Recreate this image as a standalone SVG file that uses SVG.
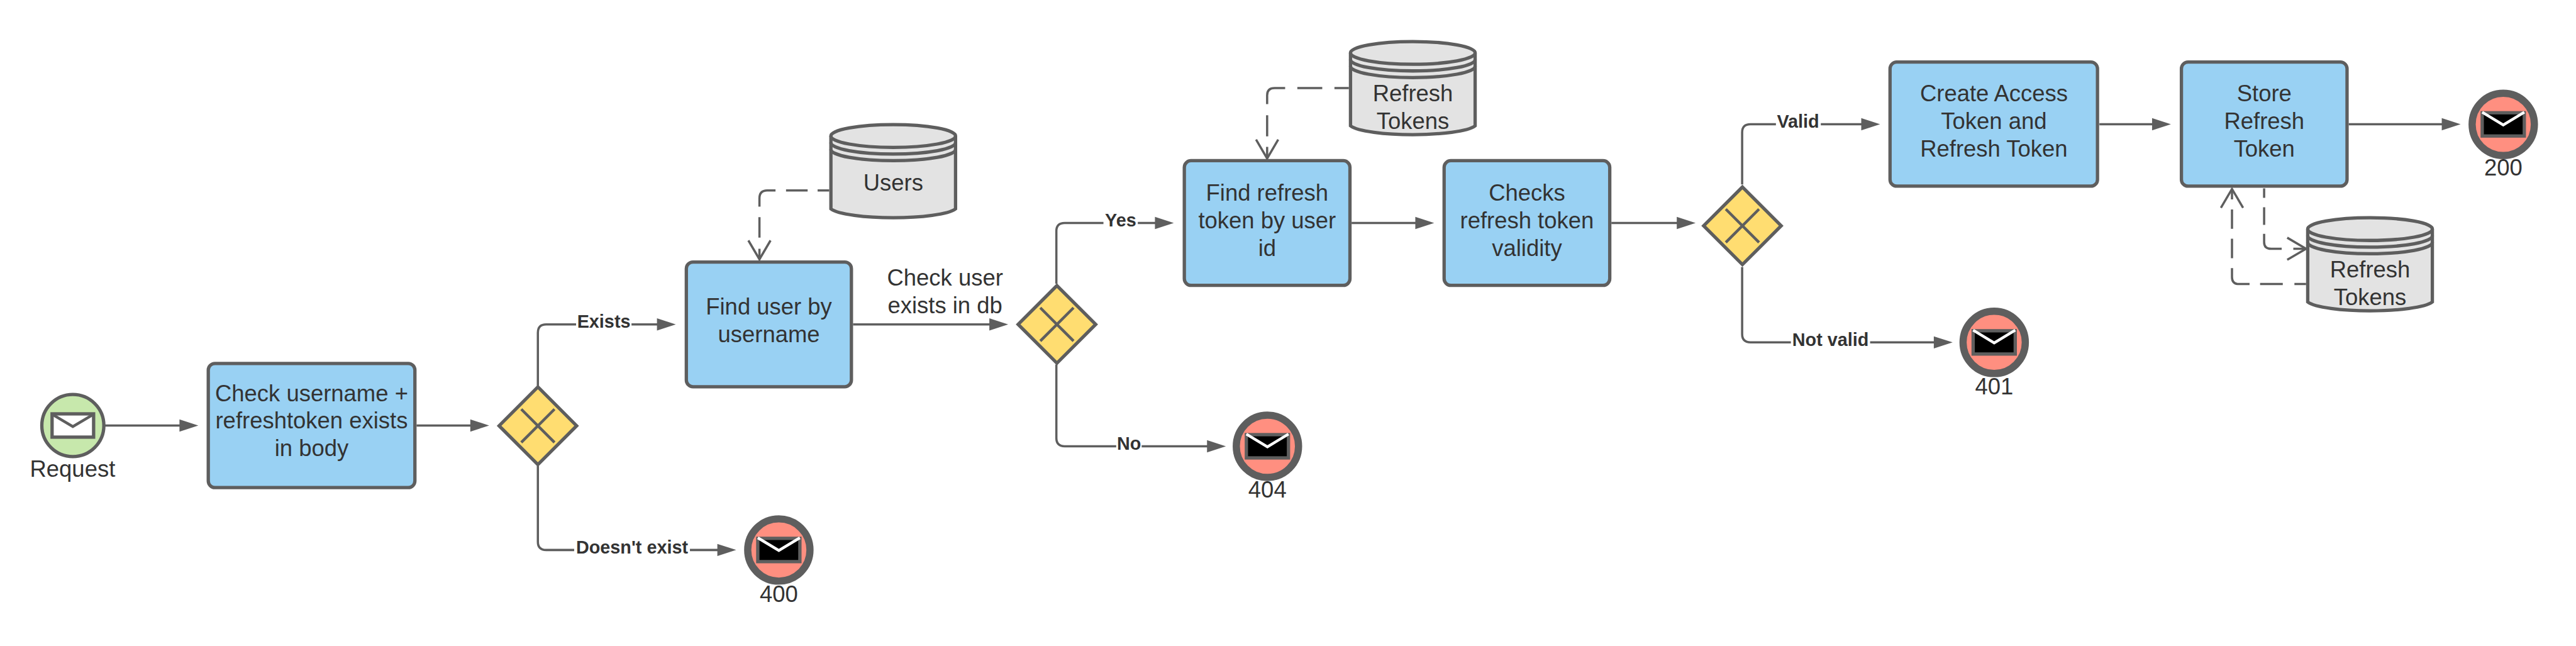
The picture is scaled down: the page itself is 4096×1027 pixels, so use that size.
<svg xmlns="http://www.w3.org/2000/svg" xmlns:xlink="http://www.w3.org/1999/xlink" width="4096" height="1027" viewBox="0 0 4096 1027">
<style>
text{font-family:"Liberation Sans",Arial,sans-serif;fill:#333;text-anchor:middle}
.t{font-size:41.4px}
.l{font-size:32.7px;font-weight:bold}
.task{fill:#99D1F3;stroke:#5E5E5E;stroke-width:6}
.gw{fill:#FFDD71;stroke:#5E5E5E;stroke-width:6;stroke-linejoin:miter}
.x{fill:none;stroke:#5E5E5E;stroke-width:5}
.c{fill:none;stroke:#5E5E5E;stroke-width:4}
.s{marker-end:url(#solid)}
.d{marker-end:url(#open)}
.gap{fill:#fff;stroke:none}
</style>
<defs>
<marker id="solid" markerUnits="userSpaceOnUse" markerWidth="36" markerHeight="24" refX="24" refY="0" overflow="visible" orient="auto"><path d="M0-11L34 0L0 11Z" fill="#5E5E5E"/></marker>
<marker id="open" markerUnits="userSpaceOnUse" markerWidth="36" markerHeight="44" refX="34" refY="0" overflow="visible" orient="auto"><path d="M0-20L34 0L0 20" fill="none" stroke="#5E5E5E" stroke-width="4"/></marker>
<g id="db">
<path d="M-112.5 23.5A112.5 20.5 0 0 1 112.5 23.5V155C100 165 50 171 0 171C-50 171-100 165-112.5 155Z" fill="#E3E3E3" stroke="#5E5E5E" stroke-width="6"/>
<path d="M-112.5 23.5A112.5 20.5 0 0 0 112.5 23.5M-112.5 35.5A112.5 20.5 0 0 0 112.5 35.5M-112.5 47.5A112.5 20.5 0 0 0 112.5 47.5" fill="none" stroke="#5E5E5E" stroke-width="6"/>
</g>
<g id="end">
<circle r="56.2" fill="#FF8F80" stroke="#5E5E5E" stroke-width="13"/>
<rect x="-38" y="-21" width="76" height="42" fill="#000" stroke="#5E5E5E" stroke-width="6"/>
<path d="M-38-22L0 1L38-22" fill="none" stroke="#fff" stroke-width="5"/>
</g>
<path id="gate" d="M0-70L70 0L0 70L-70 0Z"/>
</defs>
<g transform="scale(0.8808)">
<rect width="4650" height="1166" fill="#fff"/>
<g id="connectors">
<path class="c s" d="M189 768H348"/>
<path class="c s" d="M752 768H873"/>
<path class="c s" d="M971 696V600.5Q971 585.5 986 585.5H1210"/>
<path class="c s" d="M971 841V977.7Q971 992.7 986 992.7H1319"/>
<path class="c s" d="M1540 585.5H1810"/>
<path class="c s" d="M1907 512V417Q1907 402.5 1922 402.5H2109"/>
<path class="c s" d="M1907 658V790.5Q1907 805.5 1922 805.5H2203"/>
<path class="c s" d="M2440 402.5H2579"/>
<path class="c s" d="M2909 402.5H3051"/>
<path class="c s" d="M3145 333V239Q3145 224.3 3160 224.3H3384"/>
<path class="c s" d="M3145 482V603Q3145 618 3160 618H3515"/>
<path class="c s" d="M3790 224.3H3909"/>
<path class="c s" d="M4240 224.3H4432"/>
<path class="c d" d="M1497 343.7H1476M1458 343.7H1419M1400 343.7H1385Q1371 343.7 1371 358V373M1371 392V429M1371 449V468"/>
<path class="c d" d="M2435 159H2409M2387 159H2342M2320 159H2301Q2287.5 159 2287.5 172V188M2287.5 208V246M2287.5 265V286"/>
<path class="c d" d="M4087.3 340V357M4087.3 374V406M4087.3 422V437Q4087.3 449 4100 449H4119M4140 449H4163"/>
<path class="c d" d="M4163 512.7H4142M4121 512.7H4080M4061 512.7H4042Q4029.3 512.7 4029.3 500V484M4029.3 466V431M4029.3 413V378M4029.3 360V341"/>
<rect class="gap" x="1040" y="565" width="100" height="40"/>
<text class="l" x="1090" y="591.5">Exists</text>
<rect class="gap" x="1036.5" y="973" width="209" height="40"/>
<text class="l" x="1141" y="998.7">Doesn't exist</text>
<rect class="gap" x="1992" y="383" width="62" height="40"/>
<text class="l" x="2023" y="408.5">Yes</text>
<rect class="gap" x="2015" y="786" width="46" height="40"/>
<text class="l" x="2038" y="811.5">No</text>
<rect class="gap" x="3206" y="205" width="81" height="40"/>
<text class="l" x="3246" y="230.5">Valid</text>
<rect class="gap" x="3233" y="598" width="143" height="40"/>
<text class="l" x="3304.5" y="624">Not valid</text>
<text class="t" x="1706" y="515">Check user</text>
<text class="t" x="1706" y="565">exists in db</text>
</g>
<g id="start-request">
<circle cx="131.5" cy="768" r="56" fill="#C7E8AC" stroke="#5E5E5E" stroke-width="6"/>
<rect x="94" y="747" width="75" height="42" fill="#fff" stroke="#5E5E5E" stroke-width="6"/>
<path d="M96 749L131.5 770L167 749" fill="none" stroke="#5E5E5E" stroke-width="5"/>
<text class="t" x="131" y="861">Request</text>
</g>
<g id="task-check-username">
<rect class="task" x="376" y="656" width="373" height="224" rx="12"/>
<text class="t" x="562.5" y="724">Check username +</text>
<text class="t" x="562.5" y="773.5">refreshtoken exists</text>
<text class="t" x="562.5" y="823">in body</text>
</g>
<g id="gateway-1">
<use href="#gate" class="gw" transform="translate(971 768.5)"/>
<path class="x" d="M941 738.5L1001 798.5M1001 738.5L941 798.5"/>
</g>
<g id="end-400">
<use href="#end" transform="translate(1406 992.7)"/>
<text class="t" x="1406" y="1086">400</text>
</g>
<g id="task-find-user">
<rect class="task" x="1239" y="473" width="298" height="225" rx="12"/>
<text class="t" x="1388" y="568">Find user by</text>
<text class="t" x="1388" y="618">username</text>
</g>
<g id="db-users">
<use href="#db" transform="translate(1612.5 222)"/>
<text class="t" x="1612.5" y="344">Users</text>
</g>
<g id="gateway-2">
<use href="#gate" class="gw" transform="translate(1908 585.5)"/>
<path class="x" d="M1878 555.5L1938 615.5M1938 555.5L1878 615.5"/>
</g>
<g id="end-404">
<use href="#end" transform="translate(2288 805.5)"/>
<text class="t" x="2288" y="898">404</text>
</g>
<g id="task-find-refresh">
<rect class="task" x="2138" y="290" width="299" height="225" rx="12"/>
<text class="t" x="2287.5" y="362">Find refresh</text>
<text class="t" x="2287.5" y="412">token by user</text>
<text class="t" x="2287.5" y="462">id</text>
</g>
<g id="db-refresh-1">
<use href="#db" transform="translate(2550.5 72)"/>
<text class="t" x="2550.5" y="183">Refresh</text>
<text class="t" x="2550.5" y="232.5">Tokens</text>
</g>
<g id="task-checks-validity">
<rect class="task" x="2607" y="290" width="299" height="225" rx="12"/>
<text class="t" x="2756.5" y="362">Checks</text>
<text class="t" x="2756.5" y="412">refresh token</text>
<text class="t" x="2756.5" y="462">validity</text>
</g>
<g id="gateway-3">
<use href="#gate" class="gw" transform="translate(3145.5 407.5)"/>
<path class="x" d="M3115.5 377.5L3175.5 437.5M3175.5 377.5L3115.5 437.5"/>
</g>
<g id="end-401">
<use href="#end" transform="translate(3600 618)"/>
<text class="t" x="3600" y="711.5">401</text>
</g>
<g id="task-create-tokens">
<rect class="task" x="3412" y="112" width="374.500" height="224" rx="12"/>
<text class="t" x="3599.500" y="183">Create Access</text>
<text class="t" x="3599.500" y="233">Token and</text>
<text class="t" x="3599.500" y="283">Refresh Token</text>
</g>
<g id="task-store-refresh">
<rect class="task" x="3938" y="112" width="299" height="224" rx="12"/>
<text class="t" x="4087.500" y="183">Store</text>
<text class="t" x="4087.500" y="233">Refresh</text>
<text class="t" x="4087.500" y="283">Token</text>
</g>
<g id="db-refresh-2">
<use href="#db" transform="translate(4278.5 390)"/>
<text class="t" x="4278.500" y="501">Refresh</text>
<text class="t" x="4278.500" y="551">Tokens</text>
</g>
<g id="end-200">
<use href="#end" transform="translate(4519 224.5)"/>
<text class="t" x="4519" y="317">200</text>
</g>
</g>
</svg>
